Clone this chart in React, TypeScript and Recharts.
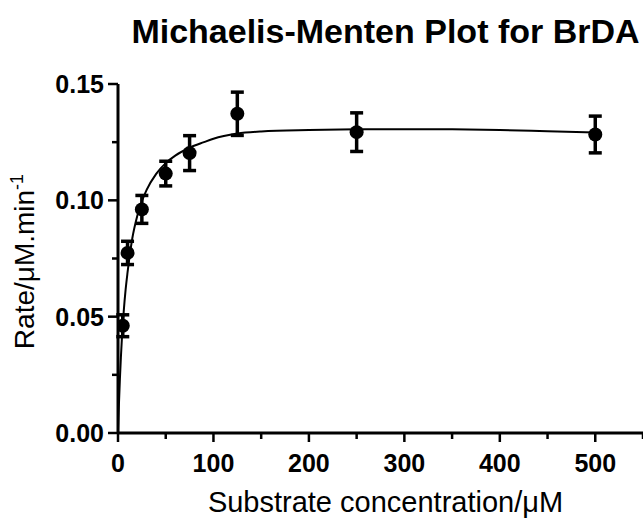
import React from "react";
import {
  ComposedChart,
  Line,
  Scatter,
  ErrorBar,
  XAxis,
  YAxis,
} from "recharts";

// measured substrate concentrations (µM), mean rates and SD
const substrate = [5, 10, 25, 50, 75, 125, 250, 500];
const rate = [0.0461, 0.0774, 0.0961, 0.1115, 0.1203, 0.1372, 0.1293, 0.1283];
const rateSd = [0.0047, 0.005, 0.006, 0.0053, 0.0075, 0.0093, 0.0083, 0.0079];

// fitted curve
const curveX = [0, 0.5, 1, 2, 3, 4, 5, 6, 8, 10, 12, 15, 20, 25, 30, 40, 50, 60, 75, 90, 100, 125, 150, 200, 250, 300, 350, 400, 450, 500];
const curveY = [0, 0.0066, 0.0127, 0.0233, 0.0323, 0.04, 0.0465, 0.0523, 0.0617, 0.069, 0.0755, 0.0837, 0.093, 0.0996, 0.1045, 0.1114, 0.116, 0.1192, 0.1226, 0.125, 0.1265, 0.1287, 0.1296, 0.1302, 0.1305, 0.1306, 0.1305, 0.1302, 0.1297, 0.1292];

const xTicks = [0, 50, 100, 150, 200, 250, 300, 350, 400, 450, 500, 550];
const yTicks = [0, 0.025, 0.05, 0.075, 0.1, 0.125, 0.15];

const points = substrate.map((x, i) => ({ x, y: rate[i], sd: rateSd[i] }));
const curve = curveX.map((x, i) => ({ x, y: curveY[i] }));

const FONT = "'Liberation Sans', Arial, sans-serif";

function XTick(props: any) {
  const { x, y, payload } = props;
  const major = payload.value % 100 === 0;
  return (
    <g>
      <line x1={x} y1={y} x2={x} y2={y + (major ? 9 : 6)} stroke="#000" strokeWidth={2.5} />
      {major && (
        <text x={x} y={y + 39} textAnchor="middle" fontFamily={FONT} fontWeight="bold" fontSize={25} fill="#000">
          {payload.value}
        </text>
      )}
    </g>
  );
}

function YTick(props: any) {
  const { x, y, payload } = props;
  const major = Math.round(payload.value / 0.025) % 2 === 0;
  return (
    <g>
      <line x1={x - (major ? 10 : 6)} y1={y} x2={x} y2={y} stroke="#000" strokeWidth={2.5} />
      {major && (
        <text x={x - 14} y={y + 9} textAnchor="end" fontFamily={FONT} fontWeight="bold" fontSize={25} fill="#000">
          {payload.value.toFixed(2)}
        </text>
      )}
    </g>
  );
}

function YLabel(props: any) {
  const vb = props.viewBox;
  const cy = vb.y + vb.height / 2 + 3;
  return (
    <text
      x={34}
      y={cy}
      transform={`rotate(-90, 34, ${cy})`}
      textAnchor="middle"
      fontFamily={FONT}
      fontSize={28}
      fill="#000"
    >
      Rate/μM.min
      <tspan fontSize={18} dy={-11}>-1</tspan>
    </text>
  );
}

function XLabel(props: any) {
  const vb = props.viewBox;
  return (
    <text
      x={vb.x + vb.width / 2 + 5}
      y={vb.y + 79}
      textAnchor="middle"
      fontFamily={FONT}
      fontSize={29}
      fill="#000"
    >
      Substrate concentration/μM
    </text>
  );
}

const Dot = (props: any) => <circle cx={props.cx} cy={props.cy} r={7} fill="#000" />;

export default function App() {
  return (
    <div style={{ position: "absolute", left: 0, top: 0, width: 643, height: 519, overflow: "hidden", background: "#fff" }}>
      <svg width={643} height={60} style={{ position: "absolute", left: 0, top: 0 }}>
        <text x={385.5} y={43} textAnchor="middle" fontFamily={FONT} fontWeight="bold" fontSize={34} fill="#000">
          Michaelis-Menten Plot for BrDA
        </text>
      </svg>
      <div style={{ position: "absolute", left: 0, top: 0 }}>
        <ComposedChart width={650} height={519} margin={{ top: 84, right: 7, left: 0, bottom: 0 }}>
          <XAxis
            type="number"
            dataKey="x"
            domain={[0, 550]}
            ticks={xTicks}
            interval={0}
            height={86}
            tickSize={0}
            tickMargin={0}
            tickLine={false}
            tick={<XTick />}
            axisLine={{ stroke: "#000", strokeWidth: 3 }}
            allowDataOverflow
            label={<XLabel />}
          />
          <YAxis
            type="number"
            domain={[0, 0.15]}
            ticks={yTicks}
            interval={0}
            width={118}
            tickSize={0}
            tickMargin={0}
            tickLine={false}
            tick={<YTick />}
            axisLine={{ stroke: "#000", strokeWidth: 3 }}
            allowDataOverflow
            label={<YLabel />}
          />
          <Line
            data={curve}
            dataKey="y"
            type="monotone"
            stroke="#000"
            strokeWidth={2}
            dot={false}
            activeDot={false}
            isAnimationActive={false}
          />
          <Scatter data={points} dataKey="y" shape={<Dot />} isAnimationActive={false}>
            <ErrorBar dataKey="sd" direction="y" width={6.5} strokeWidth={3.5} stroke="#000" />
          </Scatter>
        </ComposedChart>
      </div>
    </div>
  );
}
